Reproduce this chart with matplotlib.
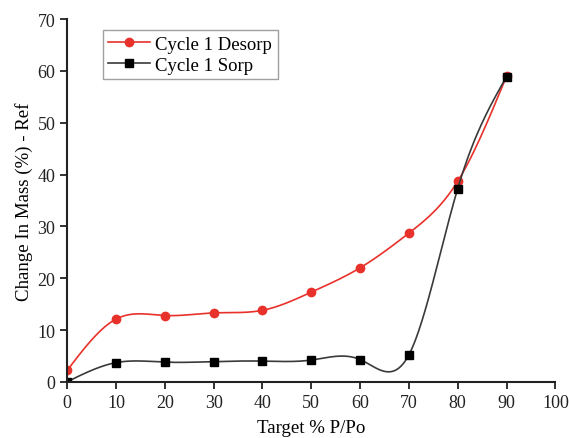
import numpy as np
import matplotlib.pyplot as plt

x = [0, 10, 20, 30, 40, 50, 60, 70, 80, 90]
desorp = [2.2, 12.1, 12.8, 13.3, 13.8, 17.3, 22.0, 28.7, 38.7, 59.0]
sorp = [0.0, 3.7, 3.8, 3.9, 4.0, 4.2, 4.3, 5.2, 37.3, 58.9]


def natural_spline(xs, ys, n=400):
    # plain natural cubic spline, like Origin's "Spline" connect
    xs = np.asarray(xs, float)
    ys = np.asarray(ys, float)
    k = len(xs)
    h = np.diff(xs)
    A = np.zeros((k, k))
    b = np.zeros(k)
    A[0, 0] = A[-1, -1] = 1
    for i in range(1, k - 1):
        A[i, i - 1] = h[i - 1]
        A[i, i] = 2 * (h[i - 1] + h[i])
        A[i, i + 1] = h[i]
        b[i] = 3 * ((ys[i + 1] - ys[i]) / h[i] - (ys[i] - ys[i - 1]) / h[i - 1])
    c = np.linalg.solve(A, b)
    xf = np.linspace(xs[0], xs[-1], n)
    idx = np.clip(np.searchsorted(xs, xf) - 1, 0, k - 2)
    dx = xf - xs[idx]
    bb = (ys[idx + 1] - ys[idx]) / h[idx] - h[idx] * (2 * c[idx] + c[idx + 1]) / 3
    dd = (c[idx + 1] - c[idx]) / (3 * h[idx])
    yf = ys[idx] + bb * dx + c[idx] * dx ** 2 + dd * dx ** 3
    return xf, yf


plt.rcParams['font.family'] = ['Liberation Serif', 'DejaVu Serif']

fig = plt.figure(figsize=(5.69, 4.39), dpi=100)
ax = fig.add_axes([0.118, 0.128, 0.858, 0.826])

red = '#e8312a'
xs, ys = natural_spline(x, desorp)
ax.plot(xs, ys, color=red, lw=1.2)
ax.plot(x, desorp, 'o', color=red, ms=6, ls='none')
xs, ys = natural_spline(x, sorp)
ax.plot(xs, ys, color='#3a3a3a', lw=1.2)
ax.plot(x, sorp, 's', color='black', ms=5.5, ls='none')

# legend proxies
ax.plot([], [], '-o', color=red, ms=6, lw=1.2, label='Cycle 1 Desorp')
ax.plot([], [], '-s', color='#3a3a3a', mfc='black', mec='black', ms=5.5, lw=1.2, label='Cycle 1 Sorp')
leg = ax.legend(loc='upper left', bbox_to_anchor=(0.073, 0.97), borderaxespad=0,
                fontsize=13.5, frameon=True, fancybox=False, edgecolor='#888888',
                handlelength=2.2, handletextpad=0.3, borderpad=0.3, labelspacing=0.2)
leg.get_frame().set_linewidth(1.0)

ax.set_xlim(0, 100)
ax.set_ylim(0, 70)
ax.set_xticks(range(0, 101, 10))
ax.set_yticks(range(0, 71, 10))
ax.spines['top'].set_visible(False)
ax.spines['right'].set_visible(False)
for s in ['left', 'bottom']:
    ax.spines[s].set_linewidth(1.5)
    ax.spines[s].set_color('#222222')
ax.tick_params(direction='out', length=5, width=1.3, labelsize=13, colors='#222222')
ax.set_xlabel('Target % P/Po', fontsize=13.6, labelpad=6)
ax.set_ylabel('Change In Mass (%) - Ref', fontsize=13.6, labelpad=3)

fig.savefig('out.png', dpi=100)
